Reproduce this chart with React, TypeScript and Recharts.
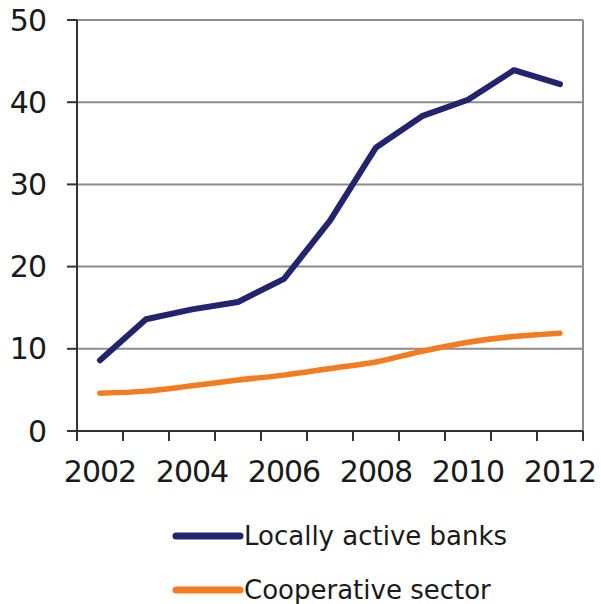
import React from 'react';
import { LineChart, Line, XAxis, YAxis, CartesianGrid, ReferenceLine, Legend } from 'recharts';

const years = [2002, 2003, 2004, 2005, 2006, 2007, 2008, 2009, 2010, 2011, 2012];
const locallyActiveBanks = [8.6, 13.6, 14.8, 15.7, 18.5, 25.6, 34.5, 38.3, 40.3, 43.9, 42.2];
const cooperativeSector = [4.6, 4.85, 5.5, 6.2, 6.8, 7.6, 8.4, 9.7, 10.8, 11.5, 11.9];
const yTicks = [0, 10, 20, 30, 40, 50];
const xLabelYears = [2002, 2004, 2006, 2008, 2010, 2012];
const seriesNames = ['Locally active banks', 'Cooperative sector'];
const seriesColors = ['#23246e', '#f47b20'];

const data = years.map((yr, i) => ({ year: yr, banks: locallyActiveBanks[i], coop: cooperativeSector[i] }));
const xMin = years[0] - 0.5;
const xMax = years[years.length - 1] + 0.5;
const boundaries = [...years.map((y) => y - 0.5), xMax];
const xTicks = [...boundaries, ...xLabelYears].sort((a, b) => a - b);

const FONT = '"DejaVu Sans", Verdana, sans-serif';

const XTick = (props: any) => {
  const { x, y, payload } = props;
  const v = payload.value;
  if (!Number.isInteger(v)) {
    return <line x1={x} x2={x} y1={y} y2={y + 10} stroke="#333" strokeWidth={2} />;
  }
  return (
    <text x={x} y={y + 51} textAnchor="middle" fontFamily={FONT} fontSize={30} letterSpacing={-1} fill="#1a1a1a">
      {v}
    </text>
  );
};

const LegendContent = (props: any) => {
  const payload = [...(props.payload || [])].sort(
    (a: any, b: any) => seriesNames.indexOf(a.value) - seriesNames.indexOf(b.value)
  );
  return (
    <div style={{ position: 'relative', height: 118, width: 583 }}>
      {payload.map((entry: any, i: number) => (
        <div
          key={entry.value}
          style={{ position: 'absolute', left: 172, top: 50 + i * 54 - 17, height: 34, display: 'flex', alignItems: 'center' }}
        >
          <svg width={72} height={10} style={{ display: 'block' }}>
            <line x1={4} x2={68} y1={5} y2={5} stroke={entry.color} strokeWidth={7} strokeLinecap="round" />
          </svg>
          <span style={{ fontFamily: FONT, fontSize: 26, color: '#1a1a1a', lineHeight: '34px', whiteSpace: 'nowrap' }}>
            {entry.value}
          </span>
        </div>
      ))}
    </div>
  );
};

export default function App() {
  return (
    <div style={{ position: 'absolute', left: 0, top: 0 }}>
      <LineChart width={601} height={604} data={data} margin={{ top: 20, right: 18, bottom: 0, left: 0 }}>
        <CartesianGrid vertical={false} stroke="#8c8c8c" strokeWidth={2} />
        <XAxis
          dataKey="year"
          type="number"
          domain={[xMin, xMax]}
          ticks={xTicks}
          interval={0}
          tickLine={false}
          tickSize={0}
          tickMargin={0}
          height={55}
          axisLine={{ stroke: '#333', strokeWidth: 2 }}
          tick={<XTick />}
        />
        <YAxis
          domain={[0, 50]}
          ticks={yTicks}
          interval={0}
          width={77}
          tickSize={10}
          tickMargin={21}
          axisLine={{ stroke: '#333', strokeWidth: 2 }}
          tickLine={{ stroke: '#333', strokeWidth: 2 }}
          tick={{ fontFamily: FONT, fontSize: 30, fill: '#1a1a1a', letterSpacing: -1 }}
        />
        <ReferenceLine x={xMax} stroke="#8c8c8c" strokeWidth={2} />
        <Legend verticalAlign="bottom" align="left" content={<LegendContent />} />
        <Line
          type="linear"
          dataKey="banks"
          name={seriesNames[0]}
          stroke={seriesColors[0]}
          strokeWidth={6}
          strokeLinejoin="round"
          strokeLinecap="round"
          dot={false}
          isAnimationActive={false}
        />
        <Line
          type="monotone"
          dataKey="coop"
          name={seriesNames[1]}
          stroke={seriesColors[1]}
          strokeWidth={5.5}
          strokeLinejoin="round"
          strokeLinecap="round"
          dot={false}
          isAnimationActive={false}
        />
      </LineChart>
    </div>
  );
}
